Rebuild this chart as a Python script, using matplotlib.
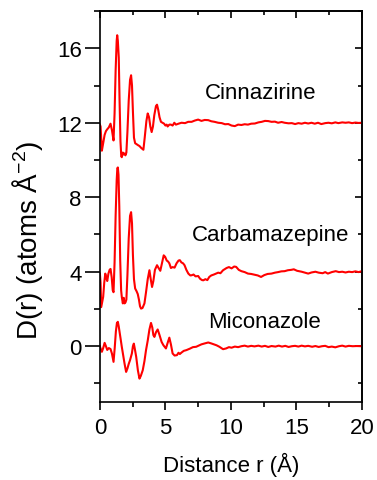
import matplotlib
matplotlib.use('Agg')
import matplotlib.pyplot as plt
from matplotlib.ticker import MultipleLocator, NullFormatter

plt.rcParams['font.family'] = ['Liberation Sans', 'DejaVu Sans']
plt.rcParams['mathtext.fontset'] = 'custom'
plt.rcParams['mathtext.rm'] = 'Liberation Sans'
plt.rcParams['mathtext.it'] = 'Liberation Sans:italic'

# ---- data: r in Angstrom, D(r) already offset ----
cinn_r = [0.0, 0.05, 0.15, 0.25, 0.36, 0.46, 0.56, 0.68, 0.81, 0.92, 1.04, 1.12, 1.2, 1.28,
          1.32, 1.37, 1.44, 1.5, 1.57, 1.63, 1.67, 1.75, 1.82, 1.88, 1.95, 2.02, 2.1, 2.2,
          2.3, 2.38, 2.45, 2.52, 2.6, 2.69, 2.8, 2.9, 3.02, 3.15, 3.32, 3.42, 3.55, 3.65,
          3.75, 3.85, 3.95, 4.05, 4.15, 4.28, 4.36, 4.45, 4.55, 4.66, 4.78, 4.9, 5.0, 5.1,
          5.17, 5.3, 5.42, 5.55, 5.68, 5.8, 6.0, 6.23, 6.5, 6.74, 7.0, 7.25, 7.5, 7.75, 8.0,
          8.27, 8.5, 8.75, 9.03, 9.3, 9.55, 9.8, 10.05, 10.3, 10.55, 10.8, 11.05, 11.3,
          11.55, 11.83, 12.1, 12.35, 12.6, 12.85, 13.1, 13.36, 13.6, 13.87, 14.1, 14.4,
          14.65, 14.9, 15.15, 15.4, 15.65, 15.9, 16.15, 16.4, 16.65, 16.9, 17.2, 17.45,
          17.7, 17.97, 18.2, 18.5, 18.75, 19.0, 19.25, 19.5, 19.75, 20.0]
cinn_d = [11.9, 11.8, 10.5, 10.9, 11.35, 11.55, 11.65, 11.75, 11.95, 11.6, 11.05, 12.5, 14.8,
          16.4, 16.7, 16.4, 15.5, 13.2, 11.0, 10.2, 10.15, 10.4, 10.3, 10.35, 10.25, 10.4,
          11.5, 13.2, 14.3, 14.55, 14.0, 12.6, 11.2, 10.9, 10.85, 10.8, 10.75, 10.65, 10.55,
          11.2, 12.1, 12.5, 12.3, 11.8, 11.5, 11.8, 12.4, 12.9, 12.97, 12.7, 12.3, 12.05,
          12.0, 11.95, 11.85, 11.9, 11.8, 11.9, 11.9, 11.85, 12.0, 11.9, 11.95, 12.0, 11.98,
          12.05, 12.05, 12.12, 12.17, 12.1, 12.15, 12.14, 12.08, 12.05, 12.0, 11.98, 11.92,
          11.93, 11.85, 11.82, 11.9, 11.88, 11.92, 11.9, 11.95, 11.96, 12.02, 12.05, 12.1,
          12.09, 12.05, 12.06, 12.0, 12.04, 12.0, 11.97, 11.98, 11.93, 11.98, 11.95, 12.0,
          11.96, 12.0, 11.95, 12.0, 11.93, 11.98, 12.0, 11.97, 12.02, 11.98, 12.02, 12.0,
          12.02, 11.98, 12.01, 11.99, 12.0]

carb_r = [0.0, 0.05, 0.1, 0.18, 0.25, 0.33, 0.41, 0.48, 0.56, 0.65, 0.74, 0.81, 0.9, 0.98,
          1.04, 1.12, 1.2, 1.28, 1.33, 1.37, 1.42, 1.48, 1.55, 1.62, 1.67, 1.75, 1.82, 1.88,
          1.95, 2.02, 2.1, 2.2, 2.3, 2.38, 2.45, 2.52, 2.6, 2.69, 2.8, 2.89, 2.98, 3.06, 3.14,
          3.25, 3.4, 3.52, 3.65, 3.78, 3.88, 3.98, 4.08, 4.2, 4.36, 4.48, 4.61, 4.75, 4.87,
          4.98, 5.1, 5.2, 5.3, 5.42, 5.55, 5.7, 5.85, 6.0, 6.1, 6.22, 6.35, 6.46, 6.6, 6.75,
          6.9, 7.0, 7.15, 7.3, 7.5, 7.65, 7.8, 7.9, 8.05, 8.2, 8.35, 8.5, 8.7, 8.87, 9.03,
          9.2, 9.4, 9.55, 9.67, 9.85, 10.05, 10.25, 10.4, 10.6, 10.8, 11.05, 11.3, 11.55,
          11.8, 12.05, 12.3, 12.55, 12.8, 13.1, 13.36, 13.6, 13.85, 14.1, 14.35, 14.6, 14.8,
          15.05, 15.4, 15.65, 15.9, 16.15, 16.45, 16.7, 17.0, 17.2, 17.4, 17.7, 18.0, 18.25,
          18.5, 18.75, 19.0, 19.25, 19.5, 19.75, 20.0]
carb_d = [3.9, 3.4, 2.1, 2.4, 2.65, 3.4, 3.9, 3.7, 3.5, 3.9, 4.1, 4.15, 3.7, 3.0, 2.9, 4.5,
          7.0, 8.9, 9.55, 9.6, 9.2, 7.5, 4.6, 3.0, 2.65, 2.3, 2.6, 2.3, 2.35, 2.5, 3.8, 5.8,
          7.0, 7.2, 6.6, 4.9, 3.6, 3.1, 2.95, 2.8, 2.5, 2.15, 2.02, 2.05, 2.3, 2.9, 3.6, 4.08,
          3.6, 3.18, 3.5, 4.1, 4.35, 4.2, 4.05, 4.5, 4.88, 4.8, 4.6, 4.55, 4.45, 4.2, 4.25,
          4.22, 4.45, 4.6, 4.62, 4.5, 4.45, 4.35, 4.1, 3.9, 3.8, 3.81, 3.85, 3.75, 3.77, 3.62,
          3.55, 3.54, 3.6, 3.55, 3.72, 3.8, 3.85, 3.9, 3.95, 3.92, 4.08, 4.15, 4.2, 4.25,
          4.18, 4.28, 4.26, 4.1, 4.03, 3.98, 3.9, 3.88, 3.84, 3.8, 3.72, 3.82, 3.88, 3.9,
          3.95, 3.98, 4.02, 4.03, 4.08, 4.1, 4.13, 4.05, 4.0, 3.95, 3.9, 3.96, 4.0, 3.95,
          3.92, 3.98, 3.9, 3.98, 4.03, 3.98, 4.0, 3.96, 4.0, 3.98, 4.02, 3.98, 4.03]

mico_r = [0.0, 0.05, 0.15, 0.25, 0.36, 0.46, 0.56, 0.68, 0.81, 0.92, 1.04, 1.13, 1.22, 1.3,
          1.37, 1.44, 1.5, 1.58, 1.67, 1.78, 1.88, 2.0, 2.1, 2.2, 2.3, 2.44, 2.52, 2.59, 2.68,
          2.77, 2.9, 3.02, 3.12, 3.27, 3.4, 3.52, 3.65, 3.78, 3.9, 4.0, 4.08, 4.16, 4.28,
          4.41, 4.55, 4.71, 4.85, 5.04, 5.18, 5.3, 5.42, 5.55, 5.7, 5.88, 6.0, 6.1, 6.23,
          6.4, 6.6, 6.87, 7.1, 7.35, 7.5, 7.75, 8.0, 8.27, 8.5, 8.7, 8.9, 9.12, 9.4, 9.63,
          9.85, 10.05, 10.3, 10.55, 10.8, 11.05, 11.3, 11.55, 11.8, 12.1, 12.35, 12.6, 12.85,
          13.1, 13.4, 13.65, 13.9, 14.15, 14.4, 14.65, 14.9, 15.15, 15.4, 15.65, 15.9, 16.2,
          16.45, 16.7, 16.95, 17.2, 17.45, 17.7, 17.97, 18.25, 18.5, 18.75, 19.0, 19.3, 19.6,
          20.0]
mico_d = [0.0, -0.12, -0.3, -0.1, 0.18, 0.0, -0.2, -0.1, -0.15, -0.4, -0.84, -0.1, 0.8, 1.25,
          1.31, 1.05, 0.77, 0.4, -0.03, -0.5, -0.93, -1.38, -1.2, -0.95, -0.75, -0.39, 0.0,
          0.14, -0.2, -0.57, -1.3, -1.74, -1.6, -1.29, -0.8, -0.21, 0.3, 0.9, 1.25, 1.0, 0.6,
          0.5, 0.75, 0.9, 0.6, 0.23, 0.05, -0.12, 0.2, 0.46, 0.1, -0.39, -0.5, -0.48, -0.35,
          -0.42, -0.34, -0.25, -0.21, -0.13, -0.05, -0.03, 0.02, 0.1, 0.15, 0.2, 0.15, 0.1,
          0.05, -0.03, -0.16, -0.12, -0.05, -0.08, -0.02, -0.05, 0.0, 0.03, -0.02, 0.02,
          -0.01, 0.03, -0.02, 0.02, -0.04, 0.01, -0.02, 0.03, -0.02, 0.02, -0.04, 0.0, 0.02,
          -0.02, 0.03, -0.01, 0.02, -0.03, 0.01, -0.04, 0.0, 0.02, -0.05, -0.02, -0.06, 0.0,
          0.03, -0.02, 0.02, 0.0, 0.01, 0.0]

names = ['Cinnazirine', 'Carbamazepine', 'Miconazole']
name_r = [12.3, 13.0, 12.6]
name_d = [13.35, 5.7, 1.05]

fig = plt.figure(figsize=(3.77, 4.81), dpi=100)
ax = fig.add_axes([0.265, 0.162, 0.695, 0.813])

for r, d in [(cinn_r, cinn_d), (carb_r, carb_d), (mico_r, mico_d)]:
    ax.plot(r, d, color='#ff0000', lw=1.5)

for name, x, y in zip(names, name_r, name_d):
    ax.text(x, y, name, fontsize=16, ha='center', va='baseline')

ax.set_xlim(0, 20)
ax.set_ylim(-3, 18)
ax.xaxis.set_major_locator(MultipleLocator(5))
ax.xaxis.set_minor_locator(MultipleLocator(2.5))
ax.yaxis.set_major_locator(MultipleLocator(4))
ax.yaxis.set_minor_locator(MultipleLocator(2))

for sp in ax.spines.values():
    sp.set_linewidth(1.2)

ax.tick_params(axis='x', which='major', direction='out', length=6, width=1.2, labelsize=16, pad=5)
ax.tick_params(axis='x', which='minor', direction='out', length=3.6, width=1.2)
ax.tick_params(axis='y', which='major', direction='out', length=11, width=1.2, labelsize=16, pad=2)
ax.tick_params(axis='y', which='minor', direction='out', length=4.3, width=1.2)

# inward ticks on top and right
top = ax.secondary_xaxis('top')
top.xaxis.set_major_locator(MultipleLocator(5))
top.xaxis.set_minor_locator(MultipleLocator(2.5))
top.xaxis.set_major_formatter(NullFormatter())
top.tick_params(which='major', direction='in', length=5, width=1.2)
top.tick_params(which='minor', direction='in', length=2.7, width=1.2)
top.spines['top'].set_linewidth(1.2)

right = ax.secondary_yaxis('right')
right.yaxis.set_major_locator(MultipleLocator(4))
right.yaxis.set_minor_locator(MultipleLocator(2))
right.yaxis.set_major_formatter(NullFormatter())
right.tick_params(which='major', direction='in', length=5, width=1.2)
right.tick_params(which='minor', direction='in', length=2.7, width=1.2)
right.spines['right'].set_linewidth(1.2)

ax.set_xlabel('Distance r (Å)', fontsize=16, labelpad=10)
fig.text(0.074, 0.50, 'D(r) (atoms Å$^{-2}$)', rotation=90, ha='center', va='center',
         fontsize=20)

fig.savefig('out.png', dpi=100)
